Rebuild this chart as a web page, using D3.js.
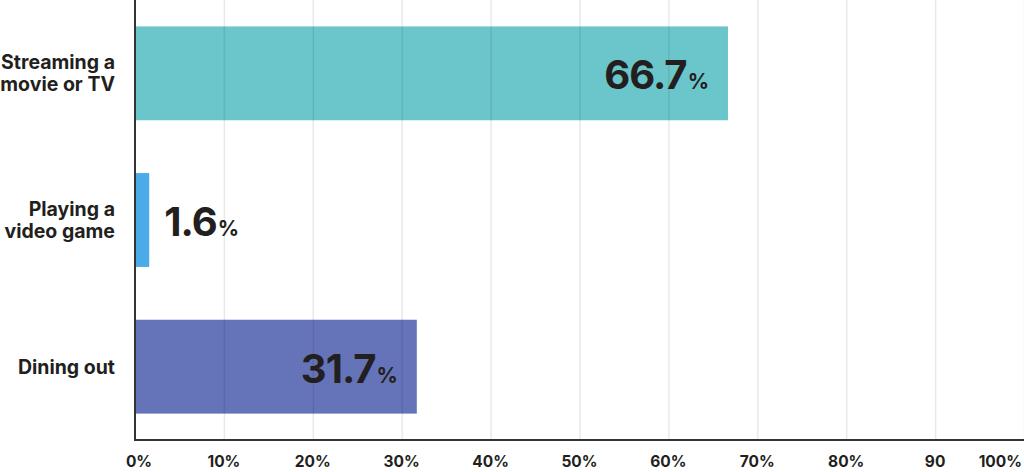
<!DOCTYPE html>
<html>
<head>
<meta charset="utf-8">
<script src="https://cdn.jsdelivr.net/npm/d3@7"></script>
<style>
  body { margin: 0; background: #fff; }
  svg { display: block; font-family: "Inter", "Roboto", sans-serif; }
  .cat { font-size: 19.5px; font-weight: 700; fill: #231f20; }
  .val { font-weight: 700; fill: #231f20; }
  .tick-label { font-size: 15.5px; font-weight: 700; fill: #231f20; }
</style>
</head>
<body>
<svg width="1024" height="472"></svg>
<script>
// data
var categories = [["Streaming a", "movie or TV"], ["Playing a", "video game"], ["Dining out"]];
var values = [66.7, 1.6, 31.7];
var colours = ["#6bc6cb", "#4aabe8", "#6574b8"];
var tickValues = [0, 10, 20, 30, 40, 50, 60, 70, 80, 90, 100];
var tickLabels = ["0%", "10%", "20%", "30%", "40%", "50%", "60%", "70%", "80%", "90", "100%"];

var svg = d3.select("svg"),
  margin = { top: 0, right: 0, bottom: 32, left: 135 },
  width = +svg.attr("width") - margin.left - margin.right,
  height = +svg.attr("height") - margin.top - margin.bottom;

var x = d3.scaleLinear().domain([0, 100]).range([0, width]);
var y = d3.scaleBand().domain(d3.range(values.length)).range([0, height])
  .paddingInner(0.36).paddingOuter(0.18);

var g = svg.append("g")
  .attr("transform", "translate(" + margin.left + "," + margin.top + ")");

// bars
g.selectAll(".bar")
  .data(values)
  .enter().append("rect")
    .attr("class", "bar")
    .attr("x", 0)
    .attr("y", function(d, i) { return y(i); })
    .attr("width", function(d) { return x(d); })
    .attr("height", y.bandwidth())
    .attr("fill", function(d, i) { return colours[i]; });

// grid lines drawn over the bars, faint
g.append("g")
  .attr("class", "grid")
  .call(d3.axisBottom(x).tickValues(tickValues.slice(1)).tickSize(height).tickFormat(""))
  .call(function(s) {
    s.select(".domain").remove();
    s.selectAll("line").attr("stroke", "rgba(0,0,0,0.09)").attr("stroke-width", 1.5);
  });

// value labels
g.selectAll(".val")
  .data(values)
  .enter().append("text")
    .attr("class", "val")
    .attr("y", function(d, i) { return y(i) + y.bandwidth() / 2 + 16; })
    .attr("x", function(d) { return x(d) < 120 ? x(d) + 15 : x(d) - 19; })
    .attr("text-anchor", function(d) { return x(d) < 120 ? "start" : "end"; })
    .each(function(d) {
      var t = d3.select(this);
      t.append("tspan").attr("font-size", 40).attr("letter-spacing", -1).text(d.toFixed(1));
      t.append("tspan").attr("font-size", 21).attr("dx", 1).text("%");
    });

// category labels
g.selectAll(".cat")
  .data(categories)
  .enter().append("text")
    .attr("class", "cat")
    .attr("text-anchor", "end")
    .attr("x", -20)
    .attr("y", function(d, i) { return y(i) + y.bandwidth() / 2 + 7 - (d.length - 1) * 11; })
    .each(function(d) {
      var t = d3.select(this);
      d.forEach(function(line, j) {
        t.append("tspan").attr("x", -20).attr("dy", j ? 22 : 0).text(line);
      });
    });

// axes
g.append("line")
  .attr("x1", 0).attr("x2", 0).attr("y1", 0).attr("y2", height + 1)
  .attr("stroke", "#333").attr("stroke-width", 2);

g.append("line")
  .attr("x1", -1).attr("x2", width).attr("y1", height).attr("y2", height)
  .attr("stroke", "#333").attr("stroke-width", 2);

var last = tickValues.length - 1;
g.selectAll(".tick-label")
  .data(tickValues)
  .enter().append("text")
    .attr("class", "tick-label")
    .attr("text-anchor", function(d, i) { return i === last ? "end" : "middle"; })
    .attr("x", function(d, i) {
      if (i === 0) return x(d) + 4;
      if (i === last) return x(d) - 2;
      return x(d);
    })
    .attr("y", height + 27)
    .text(function(d, i) { return tickLabels[i]; });
</script>
</body>
</html>
